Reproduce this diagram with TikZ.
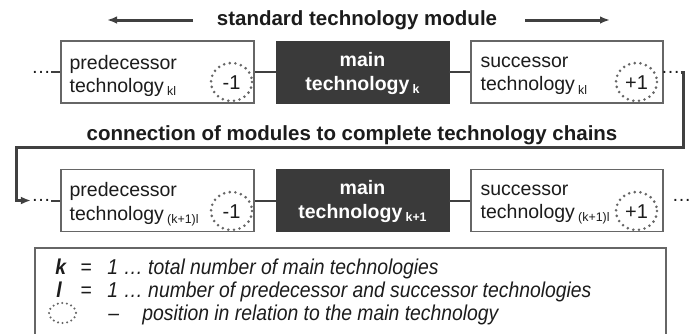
\documentclass[tikz,border=0pt]{standalone}
\usepackage{fontspec}
\setmainfont{Liberation Sans}
\newfontfamily\legendfont[FakeStretch=0.9]{Liberation Sans}
\usetikzlibrary{arrows.meta,calc}

\definecolor{linegray}{HTML}{404040}
\definecolor{boxgray}{HTML}{666666}
\definecolor{maindark}{HTML}{3A3A3A}
\definecolor{dotgray}{HTML}{666666}
\definecolor{txt}{HTML}{1C1C1C}

% subscript used in the module labels
\newcommand{\modsub}[1]{\,\raisebox{-1.6pt}{\fontsize{6.2}{6.2}\selectfont #1}}

\tikzset{
  techbox/.style={draw=boxgray, line width=0.75pt, fill=white,
    minimum width=96.5pt, minimum height=31pt, inner sep=0pt},
  mainbox/.style={fill=maindark, draw=maindark, minimum width=86.5pt,
    minimum height=31pt, inner sep=0pt},
  maintext/.style={inner sep=0pt, text=white, align=center,
    font=\fontsize{9.75}{12}\selectfont\bfseries},
  boxtext/.style={anchor=west, align=left, inner sep=0pt, text=txt,
    font=\fontsize{9.75}{11.75}\selectfont},
  posmark/.style={draw=dotgray, line width=1.45pt,
    dash pattern=on 0pt off 2.85pt, line cap=round},
  posnum/.style={inner sep=0pt, text=txt, font=\fontsize{10}{11}\selectfont},
  link/.style={draw=linegray, line width=1pt},
  chain/.style={draw=linegray, line width=1.5pt},
  chaindots/.style={inner sep=0pt, anchor=base, text=txt,
    font=\fontsize{9.75}{11}\selectfont},
  headline/.style={inner sep=0pt, text=txt, font=\fontsize{10.25}{12}\selectfont\bfseries},
  dirarrow/.style={draw=linegray, line width=1.5pt,
    -{Latex[length=5pt,width=3.8pt]}},
  legendtext/.style={anchor=base west, inner sep=0pt, text=txt,
    font=\fontsize{10.75}{12}\legendfont\itshape},
}

\begin{document}
\begin{tikzpicture}[x=0.5pt, y=-0.5pt]
\useasboundingbox (0,0) rectangle (691,333);

% --- heading with direction arrows ---
\node[headline] (title) at (357,20) {standard technology module};
\coordinate (arL0) at (193,20);
\coordinate (arL1) at (107,20);
\coordinate (arR0) at (525,20);
\coordinate (arR1) at (610,20);
\draw[dirarrow] (arL0) -- (arL1);
\draw[dirarrow] (arR0) -- (arR1);

% --- module k ---
\node[techbox] (p1) at (157.5,72) {};
\node[mainbox] (m1) at (362.5,72) {};
\node[maintext] (m1t) at (362.5,73) {main\\technology\modsub{k}};
\node[techbox, minimum width=96pt] (s1) at (567,72) {};
\node[boxtext] (p1t) at ($(p1.west)+(9,4)$) {predecessor\\technology\modsub{kl}};
\node[boxtext] (s1t) at ($(s1.west)+(10,4)$) {successor\\technology\modsub{kl}};
\draw[posmark] (231.5,82) ellipse [x radius=20.5, y radius=19];
\node[posnum] (p1n) at (231.5,83) {-1};
\draw[posmark] (636.5,82) ellipse [x radius=20.5, y radius=19];
\node[posnum] (s1n) at (636.5,83) {+1};

\node[chaindots] (dl1) at (41,73) {…};
\node[chaindots] (dr1) at (670.5,73) {…};
\draw[link] (p1.west -| dl1.east) -- (p1.west);
\draw[link] (p1) -- (m1);
\draw[link] (m1) -- (s1);

% --- chaining of modules ---
\node[headline] (chaintitle) at (352,135) {connection of modules to complete technology chains};

% --- module k+1 ---
\node[techbox] (p2) at (157.5,200.5) {};
\node[mainbox] (m2) at (362.5,200.5) {};
\node[maintext] (m2t) at (362.5,201.5) {main\\technology\modsub{k+1}};
\node[techbox, minimum width=96pt] (s2) at (567,200.5) {};
\node[boxtext] (p2t) at ($(p2.west)+(9,4)$) {predecessor\\technology\modsub{(k+1)l}};
\node[boxtext] (s2t) at ($(s2.west)+(10,4)$) {successor\\technology\modsub{(k+1)l}};
\draw[posmark] (231.5,211) ellipse [x radius=20.5, y radius=19];
\node[posnum] (p2n) at (231.5,212) {-1};
\draw[posmark] (636.5,211) ellipse [x radius=20.5, y radius=19];
\node[posnum] (s2n) at (636.5,212) {+1};

\node[chaindots] (dl2) at (41,201.5) {…};
\node[chaindots] (dr2) at (681.5,201.5) {…};
\draw[link] (p2.west -| dl2.east) -- (p2.west);
\draw[link] (p2) -- (m2);
\draw[link] (m2) -- (s2);

% return path from the end of module k to the start of module k+1
\coordinate (c1) at (683,72);
\coordinate (c2) at (683,147);
\coordinate (c3) at (16,147);
\coordinate (c4) at (16,200.5);
\draw[chain, -{Latex[length=5pt,width=4pt]}]
  (s1.east -| dr1.east) -- (c1) -- (c2) -- (c3) -- (c4) -- (c4 -| dl2.west);

% --- legend ---
\draw[draw=boxgray, line width=0.75pt] (35,248) rectangle (666,345);
\node[legendtext] (lk) at (55,274) {\bfseries k};
\node[legendtext] (lkeq) at (80,274) {=};
\node[legendtext] (lkt) at (107,274) {1 … total number of main technologies};
\node[legendtext] (ll) at (56,297) {\bfseries l};
\node[legendtext] (lleq) at (80,297) {=};
\node[legendtext] (llt) at (107,297) {1 … number of predecessor and successor technologies};
\draw[posmark, line width=1.15pt, dash pattern=on 0pt off 2.3pt] (62.5,313) ellipse [x radius=13.5, y radius=10];
\node[legendtext] (lpd) at (108,320) {–};
\node[legendtext] (lpt) at (142,320) {position in relation to the main technology};
\end{tikzpicture}
\end{document}
